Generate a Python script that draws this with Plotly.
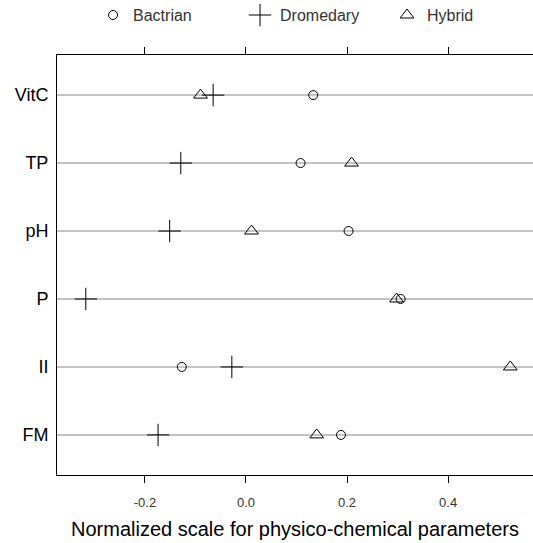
import plotly.graph_objects as go

categories = ["FM", "II", "P", "pH", "TP", "VitC"]
bactrian = [0.188, -0.127, 0.306, 0.203, 0.108, 0.133]
dromedary = [-0.174, -0.028, -0.317, -0.151, -0.129, -0.065]
hybrid = [0.140, 0.523, 0.298, 0.011, 0.209, -0.090]
tick_vals = [-0.2, 0.0, 0.2, 0.4]
tick_text = ["-0.2", "0.0", "0.2", "0.4"]

ypos = list(range(1, len(categories) + 1))

fig = go.Figure()
fig.add_trace(go.Scatter(x=bactrian, y=ypos, mode="markers", name="Bactrian",
                         marker=dict(symbol="circle-open", size=9, color="black",
                                     line=dict(width=1, color="black"))))
fig.add_trace(go.Scatter(x=dromedary, y=ypos, mode="markers", name="Dromedary",
                         marker=dict(symbol="cross-thin-open", size=16, color="black",
                                     line=dict(width=1, color="black"))))
fig.add_trace(go.Scatter(x=hybrid, y=ypos, mode="markers", name="Hybrid",
                         marker=dict(symbol="triangle-up-open", size=12, color="black",
                                     line=dict(width=1, color="black"))))

fig.update_layout(
    width=533, height=543,
    margin=dict(l=57, r=0, t=55, b=68, autoexpand=False),
    plot_bgcolor="white", paper_bgcolor="white",
    font=dict(family="Liberation Sans, Arial, sans-serif", color="black"),
    showlegend=True,
    legend=dict(orientation="h", x=0.0757, xanchor="left", y=1.095, yanchor="middle",
                font=dict(size=16, color="#333333"), bgcolor="rgba(0,0,0,0)",
                itemwidth=30, tracegroupgap=0,
                entrywidthmode="pixels", entrywidth=102),
    xaxis=dict(range=[-0.374, 0.568], tickvals=tick_vals, ticktext=tick_text,
               automargin=False,
               showgrid=False, zeroline=False, showline=True, linecolor="black",
               linewidth=1, mirror="ticks", ticks="outside", ticklen=7,
               ticklabelstandoff=8,
               tickcolor="black", tickfont=dict(size=13, color="#333333"),
               title=dict(text="Normalized scale for physico-chemical parameters",
                          font=dict(size=20, color="black"), standoff=13)),
    yaxis=dict(range=[0.41, 6.59], tickvals=ypos, ticktext=categories,
               automargin=False,
               showgrid=True, gridcolor="#c4c4c4", gridwidth=2, zeroline=False,
               showline=True, linecolor="black", linewidth=1, ticks="", ticklen=0,
               ticklabelstandoff=4,
               tickfont=dict(size=18, color="black")),
)

fig.write_html("out.html", config={"displayModeBar": False},
               post_script="document.body.style.margin='0';document.body.style.overflow='hidden';")
